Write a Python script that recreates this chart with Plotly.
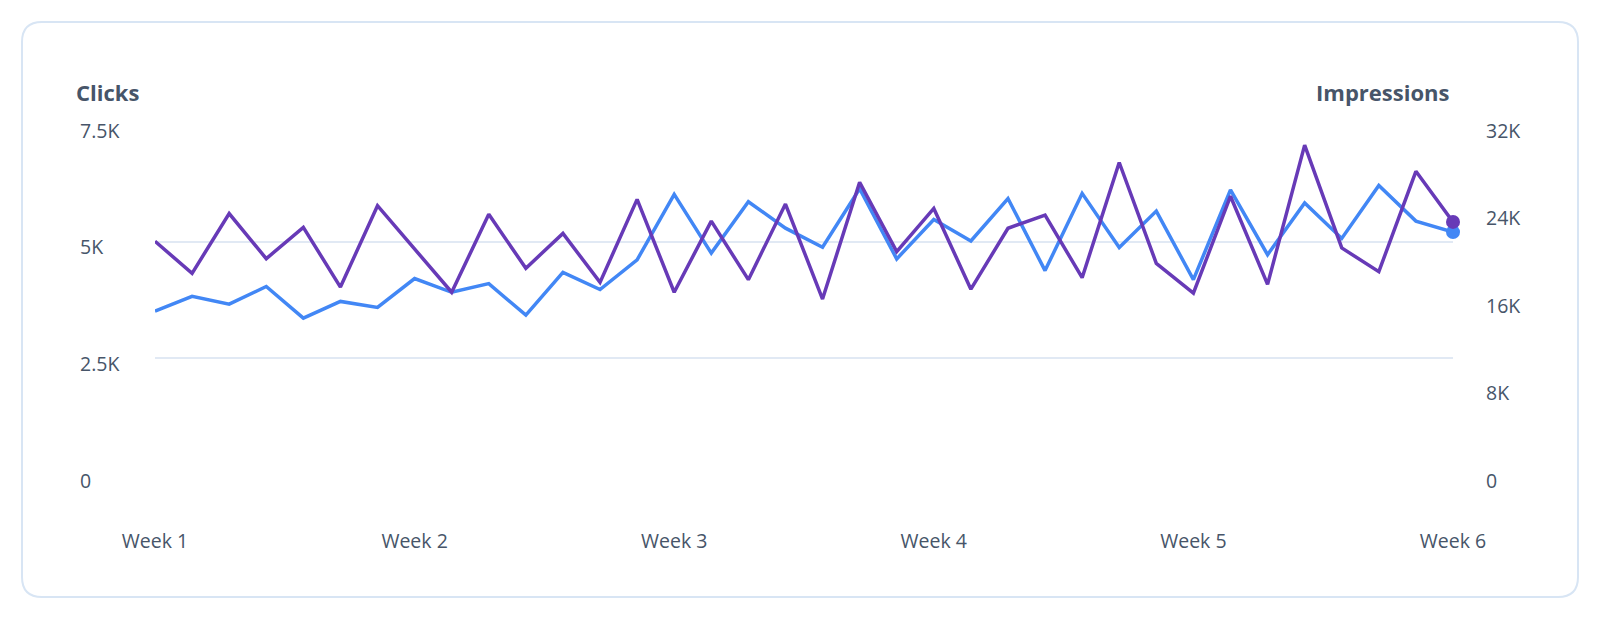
import plotly.graph_objects as go

# ---- data ----
days = list(range(36))
week_ticks = [0, 7, 14, 21, 28, 35]
week_labels = ["Week 1", "Week 2", "Week 3", "Week 4", "Week 5", "Week 6"]

clicks = [3510, 3830, 3660, 4040, 3360, 3720, 3590, 4210, 3915, 4100,
          3425, 4340, 3975, 4610, 6015, 4755, 5855, 5290, 4880, 6135,
          4630, 5475, 5015, 5925, 4380, 6035, 4875, 5655, 4185, 6110,
          4720, 5830, 5070, 6205, 5440, 5205]

impressions = [21370, 18440, 23900, 19780, 22640, 17180, 24620, 20680, 16710, 23830,
               18900, 22090, 17610, 25200, 16710, 23210, 17860, 24770, 16090, 26760,
               20430, 24370, 16990, 22560, 23760, 18040, 28570, 19350, 16630, 25490,
               17430, 30160, 20760, 18590, 27770, 23140]

left_ticks = [0, 2500, 5000, 7500]
left_tick_text = ["0", "2.5K", "5K", "7.5K"]
right_ticks = [0, 8000, 16000, 24000, 32000]
right_tick_text = ["0", "8K", "16K", "24K", "32K"]

# ---- styling ----
BLUE = "#4287f5"
PURPLE = "#673ab7"
TEXT = "#475569"
GRID = "#e1e9f4"
FONT = "Open Sans"

W, H = 1600, 620
L, R, T, B = 155, 147, 125, 145
PW, PH = W - L - R, H - T - B


def px(x):
    return (x - L) / PW


def py(y):
    return (H - B - y) / PH


fig = go.Figure()

fig.add_trace(go.Scatter(x=days, y=impressions, yaxis="y2", mode="lines",
                         line=dict(color=PURPLE, width=3.5), name="Impressions",
                         cliponaxis=False))
fig.add_trace(go.Scatter(x=days, y=clicks, yaxis="y", mode="lines",
                         line=dict(color=BLUE, width=3.5), name="Clicks",
                         cliponaxis=False))
fig.add_trace(go.Scatter(x=days[-1:], y=impressions[-1:], yaxis="y2", mode="markers",
                         marker=dict(color=PURPLE, size=14), showlegend=False,
                         cliponaxis=False))
fig.add_trace(go.Scatter(x=days[-1:], y=clicks[-1:], yaxis="y", mode="markers",
                         marker=dict(color=BLUE, size=14), showlegend=False,
                         cliponaxis=False))

# card border (rounded rectangle)
x0, x1, y0, y1, r = 22, 1578, 22, 597, 20
path = (f"M {px(x0 + r)} {py(y0)} L {px(x1 - r)} {py(y0)} "
        f"Q {px(x1)} {py(y0)} {px(x1)} {py(y0 + r)} "
        f"L {px(x1)} {py(y1 - r)} Q {px(x1)} {py(y1)} {px(x1 - r)} {py(y1)} "
        f"L {px(x0 + r)} {py(y1)} Q {px(x0)} {py(y1)} {px(x0)} {py(y1 - r)} "
        f"L {px(x0)} {py(y0 + r)} Q {px(x0)} {py(y0)} {px(x0 + r)} {py(y0)} Z")
fig.add_shape(type="path", path=path, xref="paper", yref="paper",
              line=dict(color="#d8e5f4", width=2), fillcolor="rgba(0,0,0,0)",
              layer="below")

annotations = []
for v, t in zip(left_ticks, left_tick_text):
    annotations.append(dict(x=px(78), y=v, xref="paper", yref="y", text=t,
                            showarrow=False, xanchor="left", yanchor="middle",
                            yshift=-5, font=dict(family=FONT, size=19.5, color=TEXT)))
for v, t in zip(right_ticks, right_tick_text):
    annotations.append(dict(x=px(1484), y=v, xref="paper", yref="y2", text=t,
                            showarrow=False, xanchor="left", yanchor="middle",
                            yshift=-5, font=dict(family=FONT, size=19.5, color=TEXT)))
annotations.append(dict(x=px(74), y=py(92), xref="paper", yref="paper",
                        text="<b>Clicks</b>", showarrow=False, xanchor="left",
                        yanchor="middle", font=dict(family=FONT, size=22, color=TEXT)))
annotations.append(dict(x=px(1451), y=py(92), xref="paper", yref="paper",
                        text="<b>Impressions</b>", showarrow=False, xanchor="right",
                        yanchor="middle", font=dict(family=FONT, size=22, color=TEXT)))

fig.update_layout(
    width=W, height=H,
    margin=dict(l=L, r=R, t=T, b=B, pad=0),
    paper_bgcolor="white", plot_bgcolor="white",
    showlegend=False,
    font=dict(family=FONT, size=19.5, color=TEXT),
    xaxis=dict(range=[0, 35], tickvals=week_ticks, ticktext=week_labels,
               showgrid=False, zeroline=False, showline=False, ticks="",
               ticklabelstandoff=52,
               tickfont=dict(family=FONT, size=19.5, color=TEXT)),
    yaxis=dict(range=[0, 7500], tickvals=left_ticks, showticklabels=False,
               showgrid=True, gridcolor=GRID, gridwidth=2, zeroline=False,
               showline=False, ticks=""),
    yaxis2=dict(range=[0, 32000], tickvals=right_ticks, overlaying="y",
                side="right", showticklabels=False, showgrid=False,
                zeroline=False, showline=False, ticks=""),
    annotations=annotations,
    hovermode=False,
)

fig.write_html("out.html")
